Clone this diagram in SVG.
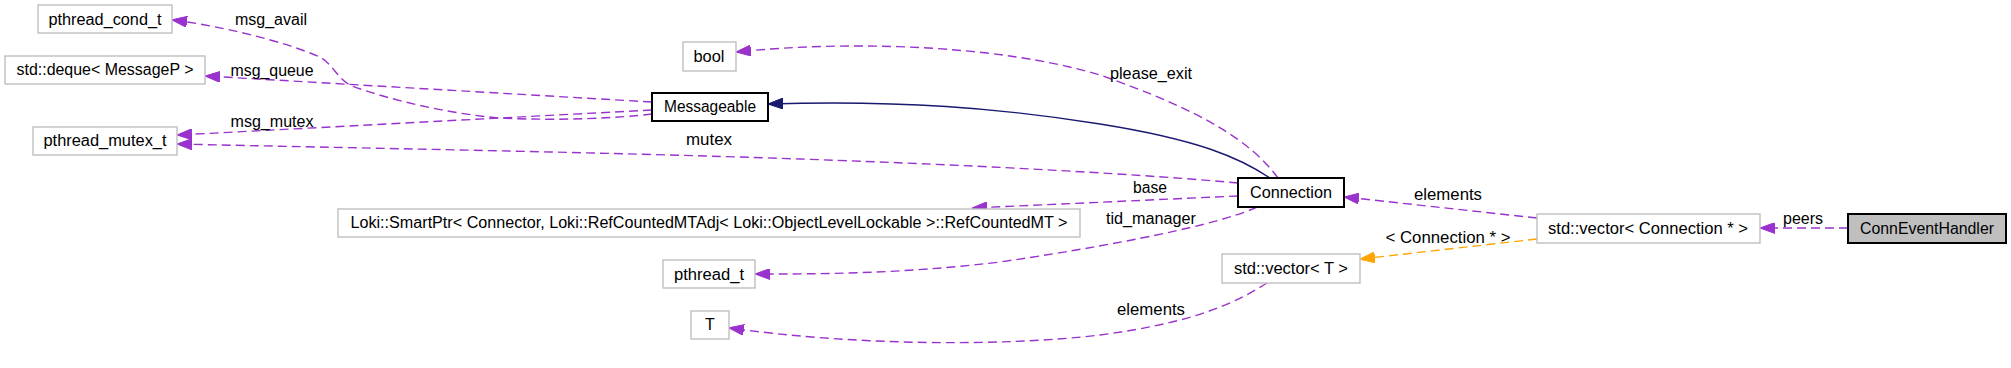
<svg xmlns="http://www.w3.org/2000/svg" width="2011" height="368" viewBox="0 0 2011 368">
<style>
text{font-family:"Liberation Sans",Arial,sans-serif;font-size:16px;fill:#000;text-anchor:middle}
.g{fill:#fff;stroke:#bfbfbf;stroke-width:1.4}
.b{fill:#fff;stroke:#000;stroke-width:2}
.h{fill:#bfbfbf;stroke:#000;stroke-width:2}
.p{fill:none;stroke:#9a32cd;stroke-width:1.4;stroke-dasharray:9,5}
.o{fill:none;stroke:#ffa500;stroke-width:1.4;stroke-dasharray:9,5}
.n{fill:none;stroke:#191970;stroke-width:1.4}
</style>
<defs>
<marker id="ap" markerUnits="userSpaceOnUse" viewBox="0 0 15 11" refX="14" refY="5.5" markerWidth="15" markerHeight="11" orient="auto"><path d="M0,0 L15,5.5 L0,11 z" fill="#9a32cd" stroke="#9a32cd" stroke-width="1"/></marker>
<marker id="ao" markerUnits="userSpaceOnUse" viewBox="0 0 15 11" refX="14" refY="5.5" markerWidth="15" markerHeight="11" orient="auto"><path d="M0,0 L15,5.5 L0,11 z" fill="#ffa500" stroke="#ffa500" stroke-width="1"/></marker>
<marker id="an" markerUnits="userSpaceOnUse" viewBox="0 0 15 11" refX="14" refY="5.5" markerWidth="15" markerHeight="11" orient="auto"><path d="M0,0 L15,5.5 L0,11 z" fill="#191970" stroke="#191970" stroke-width="1"/></marker>
</defs>
<rect width="2011" height="368" fill="#fff"/>
<g id="connectors">
<path class="p" marker-end="url(#ap)" d="M652,114 C620,118 560,121 500,118 C450,114 390,100 352,86 C338,80 333,64 320,57 C280,40 220,26 173,20"/>
<path class="p" marker-end="url(#ap)" d="M652,102 L206,76"/>
<path class="p" marker-end="url(#ap)" d="M652,110 L178,135"/>
<path class="p" marker-end="url(#ap)" d="M1238,183 C1150,175 1000,166 800,159 C600,152 350,148 178,144"/>
<path class="n" marker-end="url(#an)" d="M1270,178 C1240,158 1200,140 1100,124 C1000,108 900,100 769,104"/>
<path class="p" marker-end="url(#ap)" d="M1278,178 C1250,140 1200,110 1100,75 C1000,45 850,40 737,52"/>
<path class="p" marker-end="url(#ap)" d="M1238,196 L973,208"/>
<path class="p" marker-end="url(#ap)" d="M1257,207 C1230,220 1150,240 1000,262 C900,274 820,274 756,274"/>
<path class="p" marker-end="url(#ap)" d="M1537,218 L1345,197"/>
<path class="o" marker-end="url(#ao)" d="M1537,239 L1361,259"/>
<path class="p" marker-end="url(#ap)" d="M1848,228 L1761,228"/>
<path class="p" marker-end="url(#ap)" d="M1267,283 C1240,300 1200,322 1100,335 C1000,347 850,345 730,328"/>
<text x="271" y="25" textLength="72" lengthAdjust="spacingAndGlyphs">msg_avail</text>
<text x="272" y="76" textLength="83" lengthAdjust="spacingAndGlyphs">msg_queue</text>
<text x="272" y="127" textLength="83" lengthAdjust="spacingAndGlyphs">msg_mutex</text>
<text x="709" y="145" textLength="46" lengthAdjust="spacingAndGlyphs">mutex</text>
<text x="1151" y="79" textLength="82" lengthAdjust="spacingAndGlyphs">please_exit</text>
<text x="1150" y="193" textLength="34" lengthAdjust="spacingAndGlyphs">base</text>
<text x="1151" y="224" textLength="90" lengthAdjust="spacingAndGlyphs">tid_manager</text>
<text x="1448" y="200" textLength="68" lengthAdjust="spacingAndGlyphs">elements</text>
<text x="1448" y="243" textLength="125" lengthAdjust="spacingAndGlyphs">&lt; Connection * &gt;</text>
<text x="1803" y="224" textLength="40" lengthAdjust="spacingAndGlyphs">peers</text>
<text x="1151" y="315" textLength="68" lengthAdjust="spacingAndGlyphs">elements</text>
</g>
<g id="pthread_cond_t"><rect class="g" x="38" y="5" width="134" height="28"/><text x="105" y="25" textLength="113" lengthAdjust="spacingAndGlyphs">pthread_cond_t</text></g>
<g id="deque"><rect class="g" x="5" y="56" width="200" height="28"/><text x="105" y="75" textLength="177" lengthAdjust="spacingAndGlyphs">std::deque&lt; MessageP &gt;</text></g>
<g id="pthread_mutex_t"><rect class="g" x="33" y="127" width="144" height="28"/><text x="105" y="146" textLength="123" lengthAdjust="spacingAndGlyphs">pthread_mutex_t</text></g>
<g id="bool"><rect class="g" x="683" y="42" width="53" height="29"/><text x="709" y="62" textLength="31" lengthAdjust="spacingAndGlyphs">bool</text></g>
<g id="Messageable"><rect class="b" x="652" y="93" width="116" height="28"/><text x="710" y="112" textLength="92" lengthAdjust="spacingAndGlyphs">Messageable</text></g>
<g id="Loki"><rect class="g" x="338" y="209" width="742" height="28"/><text x="709" y="228" textLength="717" lengthAdjust="spacingAndGlyphs">Loki::SmartPtr&lt; Connector, Loki::RefCountedMTAdj&lt; Loki::ObjectLevelLockable &gt;::RefCountedMT &gt;</text></g>
<g id="pthread_t"><rect class="g" x="663" y="260" width="92" height="28"/><text x="709" y="280" textLength="70" lengthAdjust="spacingAndGlyphs">pthread_t</text></g>
<g id="T"><rect class="g" x="691" y="311" width="38" height="28"/><text x="710" y="330">T</text></g>
<g id="Connection"><rect class="b" x="1238" y="178" width="106" height="29"/><text x="1291" y="198" textLength="82" lengthAdjust="spacingAndGlyphs">Connection</text></g>
<g id="vectorT"><rect class="g" x="1222" y="254" width="138" height="29"/><text x="1291" y="274" textLength="114" lengthAdjust="spacingAndGlyphs">std::vector&lt; T &gt;</text></g>
<g id="vectorConn"><rect class="g" x="1537" y="214" width="223" height="29"/><text x="1648" y="234" textLength="200" lengthAdjust="spacingAndGlyphs">std::vector&lt; Connection * &gt;</text></g>
<g id="ConnEventHandler"><rect class="h" x="1848" y="214" width="158" height="29"/><text x="1927" y="234" textLength="134" lengthAdjust="spacingAndGlyphs">ConnEventHandler</text></g>
</svg>
